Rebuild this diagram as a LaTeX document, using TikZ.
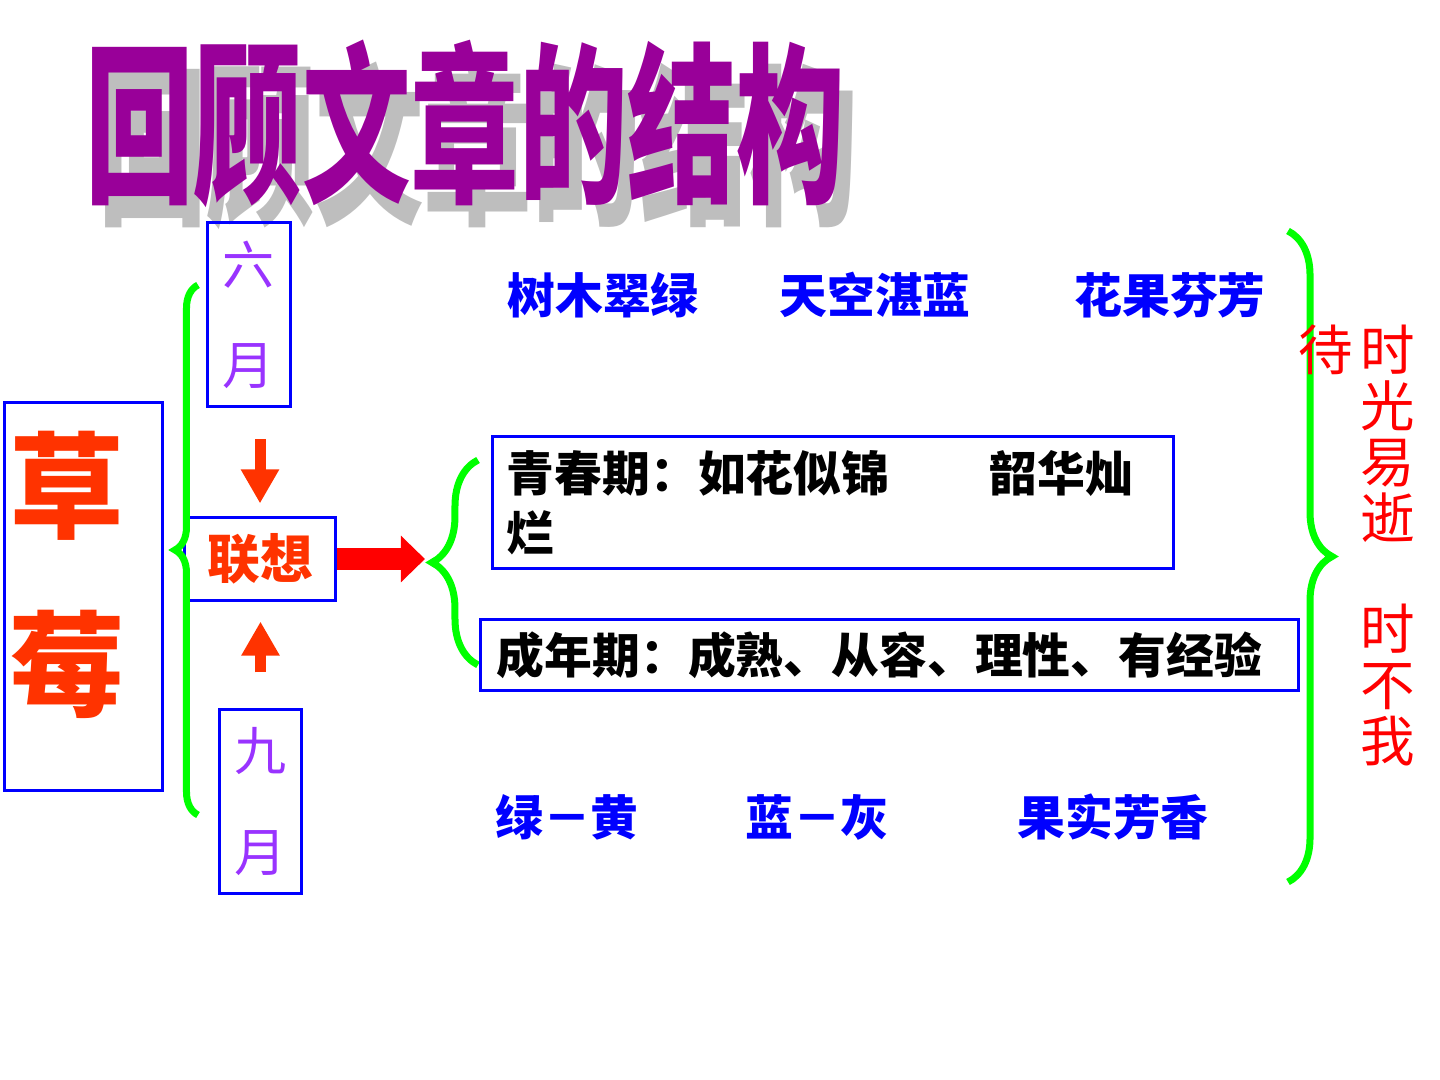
\documentclass[tikz,border=0pt]{standalone}
\usepackage{fontspec}
\usetikzlibrary{arrows.meta,decorations.pathreplacing}
\newfontfamily\cjk{Noto Sans CJK SC}
\definecolor{titlepurple}{HTML}{990099}
\definecolor{titleshadow}{HTML}{BEBEBE}
\definecolor{boxblue}{HTML}{0000FF}
\definecolor{textblue}{HTML}{0000FF}
\definecolor{berryred}{HTML}{FF3300}
\definecolor{arrowred}{HTML}{FF0000}
\definecolor{monthviolet}{HTML}{9933FF}
\definecolor{bracegreen}{HTML}{00FF00}

\begin{document}
\begin{tikzpicture}[
    x=0.01cm, y=-0.01cm,
    box/.style={draw=boxblue, line width=0.03cm, inner sep=0pt},
    month/.style={box, minimum width=0.82cm, minimum height=1.84cm, align=center, text=monthviolet, font=\cjk\fontsize{14.8}{28.5}\selectfont},
    stage/.style={box, align=left, font=\cjk\bfseries\fontsize{13.6}{17}\selectfont},
    scene/.style={text=textblue, font=\cjk\bfseries\fontsize{13.6}{16}\selectfont},
    motto/.style={text=arrowred, align=center, font=\cjk\fontsize{15.5}{15.9}\selectfont},
    titletext/.style={font=\cjk\bfseries\fontsize{49}{49}\selectfont},
    greenbrace/.style={draw=bracegreen, line width=0.07cm, decorate, decoration={brace, amplitude=#1}},
    redblock/.style={-{Triangle[width=0.36cm,length=0.34cm]}, line width=0.11cm, draw=berryred},
]
\useasboundingbox (0,0) rectangle (1440,1080);

% === Title with shadow ===
\node[titletext, text=titleshadow] (titleback) at (478,146) {\scalebox{0.63}[1]{回顾文章的结构}};
\node[titletext, text=titlepurple] (title) at (465,124) {\scalebox{0.63}[1]{回顾文章的结构}};

% === Left: strawberry, months, association ===
\node[box, minimum width=1.57cm, minimum height=3.87cm] (berrybox) at (83.5,596.5) {};
\node[text=berryred, align=center, font=\cjk\bfseries\fontsize{32.7}{51}\selectfont] (berry) at (67,575) {草\\莓};
\node[month] (june) at (249,314.5) {六\\月};
\node[month, minimum height=1.83cm] (sept) at (260.5,801.5) {九\\月};
\node[box, minimum width=1.5cm, minimum height=0.82cm, text=berryred, font=\cjk\bfseries\fontsize{15}{15}\selectfont] (assoc) at (260,559) {联想};
\draw[redblock, shorten <=0.31cm, shorten >=0.13cm] (june.south -| assoc.north) -- (assoc.north);
\draw[redblock, shorten <=0.36cm, shorten >=0.2cm] (sept.north) -- (assoc.south -| sept.north);

% Left brace
\coordinate (lefttop) at (198,285);
\coordinate (leftbot) at (198,815);
\draw[greenbrace=0.23cm] (leftbot) -- (lefttop);

% === Middle: two stages ===
\coordinate (midtop) at (478,460);
\coordinate (midbot) at (478,665);
\coordinate (midtip) at (432,562);
\draw[greenbrace=0.46cm] (midbot) -- (midtop);
\draw[-{Triangle[width=0.45cm,length=0.24cm]}, line width=0.21cm, draw=arrowred, shorten >=0.07cm] (assoc.east) -- (assoc.east -| midtip);

\node[stage, minimum width=6.8cm, minimum height=1.31cm, text width=6.52cm, inner xsep=0.14cm] (youth) at (833,502.5) {青春期：如花似锦\hspace{1cm}韶华灿\\烂};
\node[stage, minimum width=8.17cm, minimum height=0.7cm, text width=7.85cm, inner xsep=0.16cm] (adult) at (889.5,655) {成年期：成熟、从容、理性、有经验};

% Scenes: June row and September row
\node[scene] (trees) at (603,295) {树木翠绿};
\node[scene] (sky) at (875,295) {天空湛蓝};
\node[scene] (flowers) at (1170,295) {花果芬芳};
\node[scene] (yellow) at (567,817) {绿－黄};
\node[scene] (grey) at (817,817) {蓝－灰};
\node[scene] (fruits) at (1113,817) {果实芳香};

% === Right: brace and motto ===
\coordinate (righttop) at (1288,231);
\coordinate (rightbot) at (1288,882);
\draw[greenbrace=0.44cm] (righttop) -- (rightbot);
\node[motto] (wait) at (1326,350) {待};
\node[motto] (fleet) at (1388,434) {时\\光\\易\\逝};
\node[motto] (notime) at (1388,685) {时\\不\\我};

\end{tikzpicture}
\end{document}
